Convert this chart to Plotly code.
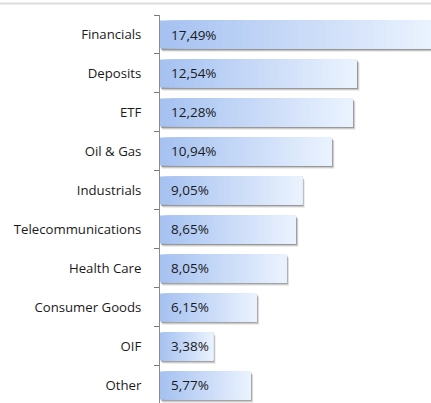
import plotly.graph_objects as go

# data
sectors = ["Financials", "Deposits", "ETF", "Oil & Gas", "Industrials",
           "Telecommunications", "Health Care", "Consumer Goods", "OIF", "Other"]
weights = [17.49, 12.54, 12.28, 10.94, 9.05, 8.65, 8.05, 6.15, 3.38, 5.77]

# gradient from saturated blue at the axis to almost white at the bar end
N_STEPS = 40
c_start = (166, 194, 241)
c_end = (234, 242, 254)


def mix(t):
    r, g, b = (round(a + (b_ - a) * t) for a, b_ in zip(c_start, c_end))
    return f"rgb({r},{g},{b})"


BAR_W = 0.72
fig = go.Figure()

# soft drop shadow, nudged right and down
for k, alpha in enumerate([0.15, 0.25, 0.4]):
    fig.add_trace(go.Bar(
        y=sectors, x=weights, base=0.06 + 0.05 * (2 - k), orientation="h",
        width=BAR_W, offset=-BAR_W / 2 + 0.035 + 0.025 * (2 - k),
        marker=dict(color=f"rgba(90,90,90,{alpha})", line_width=0),
        hoverinfo="skip", showlegend=False,
    ))

# gradient body: each slice runs from its start to the bar end, later ones on top
for i in range(N_STEPS):
    fig.add_trace(go.Bar(
        y=sectors,
        x=[w * (1 - i / N_STEPS) for w in weights],
        base=[w * i / N_STEPS for w in weights],
        orientation="h", width=BAR_W,
        marker=dict(color=mix(i / (N_STEPS - 1)), line_width=0),
        hoverinfo="skip", showlegend=False,
    ))

for s, w in zip(sectors, weights):
    fig.add_annotation(
        x=0, y=s, xref="x", yref="y", xanchor="left", xshift=9,
        text=f"{w:.2f}%".replace(".", ","), showarrow=False,
        font=dict(size=13.5, color="#1a1a1a"),
    )

# thin grey rule along the top edge
fig.add_shape(type="line", xref="paper", yref="paper",
              x0=-1, x1=1.1, y0=1.0296, y1=1.0296,
              line=dict(color="#dcdcdc", width=2))

fig.update_layout(
    barmode="overlay",
    width=431, height=403,
    margin=dict(l=160, r=0, t=15, b=0, autoexpand=False),
    paper_bgcolor="white", plot_bgcolor="white",
    font=dict(family="'Open Sans', sans-serif", size=13.2, color="#1a1a1a"),
    xaxis=dict(range=[0, 17.25], visible=False, fixedrange=True, automargin=False),
    yaxis=dict(
        type="category", categoryorder="array", categoryarray=sectors,
        range=[9.45, -0.5], automargin=False,
        showline=True, linecolor="#8c8c8c", linewidth=1,
        ticks="outside", tickson="boundaries", ticklen=5, tickwidth=1,
        tickcolor="#7a7a7a",
        ticklabelstandoff=15,
        showgrid=False, zeroline=False, fixedrange=True,
    ),
)

# drop the default body margin so the figure sits at the page corner
fig.write_html("out.html", config={"displayModeBar": False},
               post_script="document.body.style.margin='0';")
